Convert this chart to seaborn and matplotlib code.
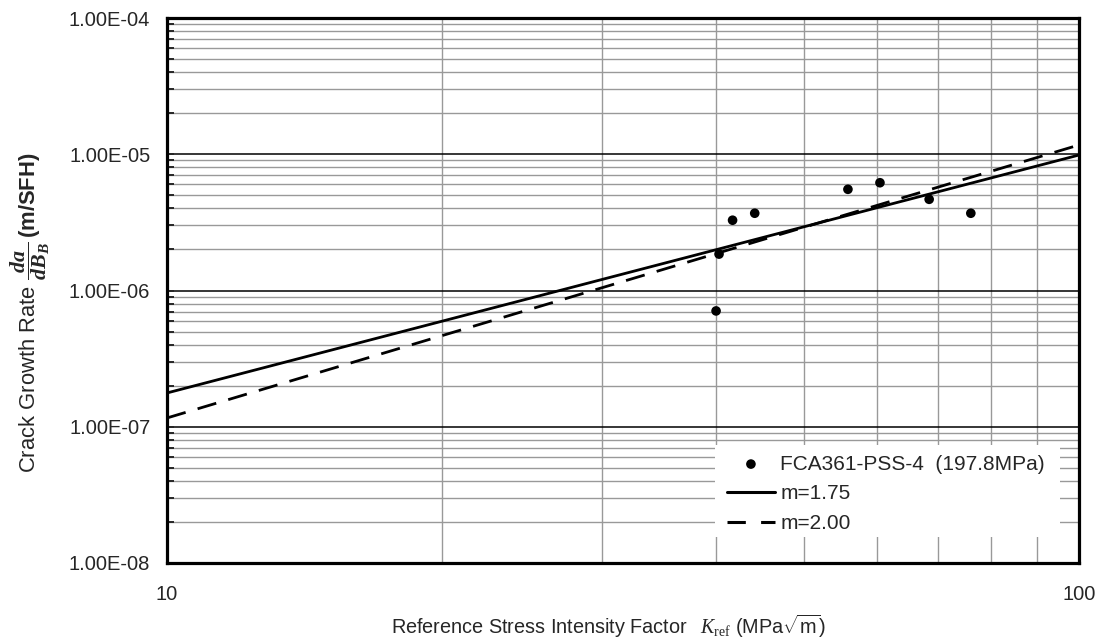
import numpy as np
import pandas as pd
import matplotlib
matplotlib.use("Agg")
import matplotlib.pyplot as plt
import matplotlib.ticker as mticker
from matplotlib.patches import Rectangle
import seaborn as sns

# ---- data ----
K_data = [40.0, 40.3, 41.7, 44.1, 55.8, 60.5, 68.5, 76.1]
rate_data = [7.08e-7, 1.85e-6, 3.28e-6, 3.69e-6, 5.53e-6, 6.18e-6, 4.67e-6, 3.69e-6]
K_fit = [10.0, 100.0]
rate_m175 = [1.77e-7, 9.87e-6]
rate_m200 = [1.16e-7, 1.17e-5]
data_label = "FCA361-PSS-4  (197.8MPa)"
fit_labels = ["m=1.75", "m=2.00"]
y_ticks = [1e-8, 1e-7, 1e-6, 1e-5, 1e-4]
x_ticks = [10, 100]

sns.set_style("white")
plt.rcParams["font.family"] = ["Liberation Sans", "DejaVu Sans"]
plt.rcParams["mathtext.fontset"] = "custom"
plt.rcParams["mathtext.rm"] = "Liberation Serif"
plt.rcParams["mathtext.it"] = "Liberation Serif:italic"
plt.rcParams["mathtext.bf"] = "Liberation Serif:italic:bold"
plt.rcParams["mathtext.sf"] = "Liberation Sans:bold"
plt.rcParams["mathtext.tt"] = "Liberation Sans"

fig = plt.figure(figsize=(11.01, 6.38), dpi=100)
ax = fig.add_axes([167/1101, 1-563/638, 912/1101, 545/638])

df_pts = pd.DataFrame({"K": K_data, "rate": rate_data})
df_fit = pd.DataFrame({"K": K_fit, "m175": rate_m175, "m200": rate_m200})

sns.scatterplot(data=df_pts, x="K", y="rate", ax=ax, color="black", s=48,
                edgecolor="none", label=data_label, zorder=4)
sns.lineplot(data=df_fit, x="K", y="m175", ax=ax, color="black", lw=2.0,
             label=fit_labels[0], zorder=3)
sns.lineplot(data=df_fit, x="K", y="m200", ax=ax, color="black", lw=2.0,
             linestyle=(0, (7, 4.5)), label=fit_labels[1], zorder=3)

ax.set_xscale("log")
ax.set_yscale("log")
ax.set_xlim(10, 100)
ax.set_ylim(1e-8, 1e-4)

ax.xaxis.set_major_locator(mticker.FixedLocator(x_ticks))
ax.xaxis.set_major_formatter(mticker.FuncFormatter(lambda v, p: f"{v:g}"))
ax.xaxis.set_minor_locator(mticker.LogLocator(base=10, subs=np.arange(2, 10)))
ax.xaxis.set_minor_formatter(mticker.NullFormatter())
ax.yaxis.set_major_locator(mticker.FixedLocator(y_ticks))
ax.yaxis.set_major_formatter(mticker.FuncFormatter(lambda v, p: f"{v:.2E}"))
ax.yaxis.set_minor_locator(mticker.LogLocator(base=10, subs=np.arange(2, 10), numticks=20))
ax.yaxis.set_minor_formatter(mticker.NullFormatter())

ax.set_axisbelow(True)
ax.grid(which="minor", axis="both", color="#999999", lw=1.0, zorder=0.5)
ax.grid(which="major", axis="y", color="black", lw=1.1, zorder=0.6)

for s in ax.spines.values():
    s.set_linewidth(2.3)
    s.set_color("black")

ax.tick_params(axis="x", which="both", length=0, pad=16, labelsize=14.5)
ax.tick_params(axis="y", which="both", direction="in", length=5, width=1.4,
               pad=12, labelsize=14.5, left=True, right=False)

ax.set_xlabel(r"Reference Stress Intensity Factor$\quad K_{\rm ref}$ (MPa$\sqrt{\mathtt{m}}$)",
              fontsize=14.3)
ax.xaxis.set_label_coords((608 - 167) / 912, -(626 - 563) / 545)
ax.xaxis.label.set_va("center")
ax.set_ylabel(r"Crack Growth Rate $\mathbf{\dfrac{da}{dB_B}}\,\mathsf{(m/SFH)}$",
              fontsize=15.8)
ax.yaxis.set_label_coords(-(167 - 30) / 912, (563 - 313) / 545)
ax.yaxis.label.set_va("center")

# white legend area
ax.add_patch(Rectangle((0.601, 0.048), 0.378, 0.169, transform=ax.transAxes,
                       facecolor="white", edgecolor="none", zorder=1.5))
leg = ax.legend(loc="upper left", bbox_to_anchor=(0.614, 0.199), frameon=False,
                fontsize=15, borderaxespad=0, borderpad=0, handlelength=2.3,
                handletextpad=0.25, labelspacing=0.52)
handles = leg.legend_handles
handles[1].set_linewidth(2.2)
handles[2].set_linewidth(2.2)
handles[2].set_linestyle((0, (6, 5)))

fig.savefig("out.png", dpi=100)
